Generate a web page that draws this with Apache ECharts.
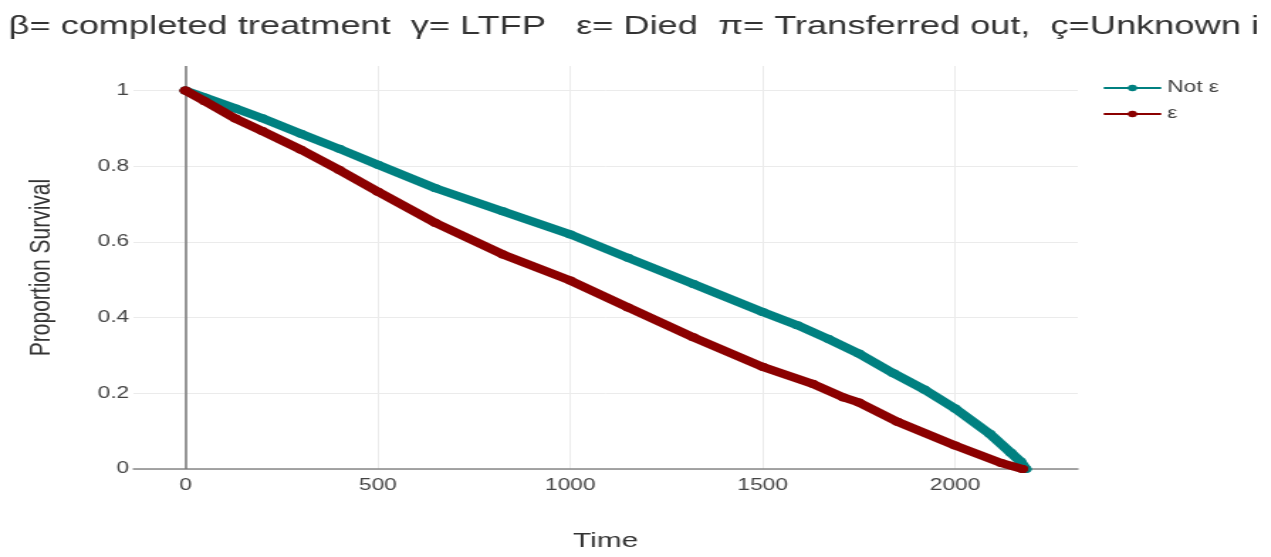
<!DOCTYPE html>
<html>
<head>
<meta charset="utf-8">
<script src="https://cdn.jsdelivr.net/npm/echarts@6/dist/echarts.min.js"></script>
<style>
  html, body { margin: 0; padding: 0; background: #fff; overflow: hidden; }
  /* the source picture is stretched sideways, so draw narrow and stretch */
  #container { width: 895px; height: 557px; transform: scaleX(1.42); transform-origin: 0 0; }
</style>
</head>
<body>
<div id="container"></div>
<script>
// survival curves
var seriesNames = ['Not ε', 'ε'];
var notDiedTime = [0, 50, 130, 200, 300, 400, 500, 650, 825, 1000, 1150, 1320, 1500, 1590, 1670, 1750, 1840, 1920, 2000, 2090, 2145, 2170, 2184];
var notDiedSurv = [1, 0.982, 0.953, 0.927, 0.886, 0.846, 0.804, 0.742, 0.681, 0.62, 0.558, 0.489, 0.415, 0.38, 0.344, 0.305, 0.253, 0.21, 0.16, 0.093, 0.043, 0.02, 0];
var diedTime = [0, 50, 130, 200, 300, 400, 500, 650, 825, 1000, 1150, 1320, 1500, 1630, 1710, 1750, 1850, 2000, 2120, 2175];
var diedSurv = [1, 0.972, 0.926, 0.893, 0.844, 0.79, 0.733, 0.65, 0.567, 0.498, 0.427, 0.348, 0.27, 0.225, 0.189, 0.176, 0.125, 0.062, 0.016, 0];

function pairs(t, s) {
    var out = [];
    for (var i = 0; i < t.length; i++) out.push([t[i], s[i]]);
    return out;
}

var dom = document.getElementById('container');
var myChart = echarts.init(dom);
var font = 'Liberation Sans, Arial, sans-serif';

var option = {
    animation: false,
    title: {
        text: 'β= completed treatment  γ= LTFP   ε= Died  π= Transferred out,  ç=Unknown i',
        left: 1,
        top: 9,
        textStyle: { fontFamily: font, fontSize: 25.5, fontWeight: 'normal', color: '#333' }
    },
    legend: {
        orient: 'vertical',
        left: 772,
        top: 75,
        itemWidth: 39,
        itemHeight: 8,
        itemGap: 10,
        lineStyle: { width: 2 },
        textStyle: { fontFamily: font, fontSize: 16, color: '#444' },
        data: seriesNames
    },
    grid: { left: 94, right: 136, top: 66, bottom: 70, containLabel: false },
    xAxis: {
        type: 'value',
        min: -135,
        max: 2319,
        name: 'Time',
        nameLocation: 'middle',
        nameGap: 62,
        nameTextStyle: { fontFamily: font, fontSize: 21, color: '#333' },
        axisLine: { show: true, onZero: false, lineStyle: { color: '#888', width: 1.5 } },
        axisTick: { show: false },
        axisLabel: { showMinLabel: false, showMaxLabel: false, margin: 9, fontFamily: font, fontSize: 16, color: '#444',
            formatter: function (v) { return String(v); } },
        splitLine: { show: true, showMinLine: false, showMaxLine: false, lineStyle: { color: '#ebebeb', width: 1 } }
    },
    yAxis: {
        type: 'value',
        min: 0,
        max: 1.065,
        interval: 0.2,
        name: 'Proportion Survival',
        nameLocation: 'middle',
        nameGap: 54,
        nameTextStyle: { fontFamily: font, fontSize: 21, color: '#333' },
        axisLine: { show: false },
        axisTick: { show: false },
        axisLabel: { showMaxLabel: false, margin: 3, fontFamily: font, fontSize: 16, color: '#444',
            formatter: function (v) { return +v.toFixed(1); } },
        splitLine: { show: true, showMaxLine: false, lineStyle: { color: '#ebebeb', width: 1 } }
    },
    series: [
        {
            name: seriesNames[0],
            type: 'line',
            data: pairs(notDiedTime, notDiedSurv),
            color: '#008080',
            symbol: 'circle',
            symbolSize: 8,
            lineStyle: { width: 8, cap: 'round', join: 'round' },
            z: 3,
            markLine: {
                silent: true,
                symbol: 'none',
                label: { show: false },
                lineStyle: { color: '#777', width: 1.5, type: 'solid' },
                data: [{ xAxis: 0 }],
                z: 1
            }
        },
        {
            name: seriesNames[1],
            type: 'line',
            data: pairs(diedTime, diedSurv),
            color: '#8b0000',
            symbol: 'circle',
            symbolSize: 8,
            lineStyle: { width: 8, cap: 'round', join: 'round' },
            z: 4
        }
    ]
};

if (option && typeof option === 'object') {
    myChart.setOption(option, true);
}
</script>
</body>
</html>
